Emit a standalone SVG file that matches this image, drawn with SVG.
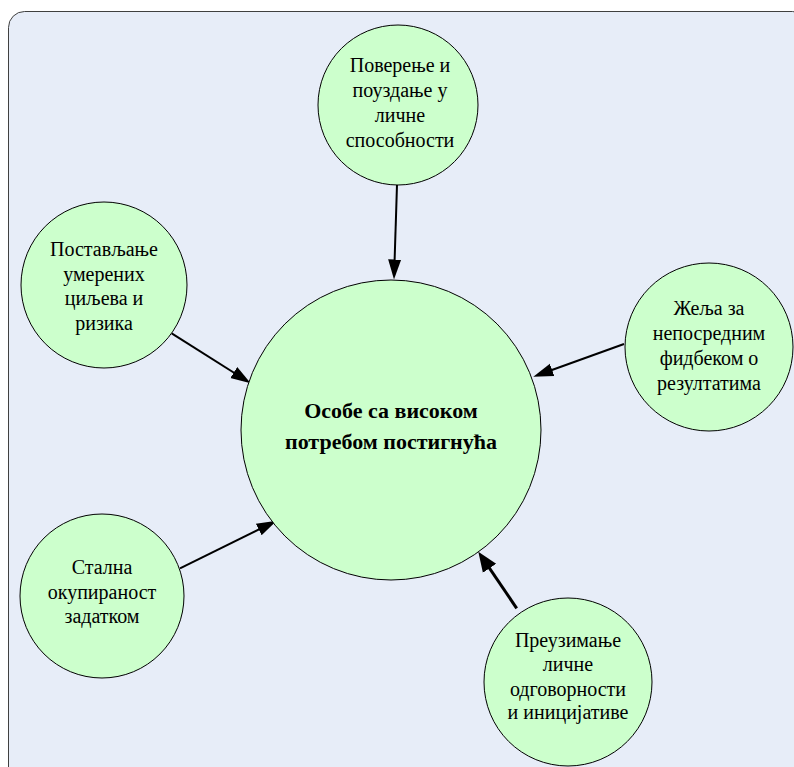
<svg xmlns="http://www.w3.org/2000/svg" width="794" height="767" viewBox="0 0 794 767" font-family="'Liberation Serif', 'DejaVu Serif', 'Noto Serif', serif">
  <style>
    .bubble { fill: #CCFFCC; stroke: #000; stroke-width: 1; }
    text { font-family: "Liberation Serif", "DejaVu Serif", "Noto Serif", "Times New Roman", serif; }
    .label { font-size: 20px; fill: #000; text-anchor: middle; }
    .hub { font-weight: bold; font-size: 22px; }
    .link { stroke: #000; stroke-width: 2; fill: none; marker-end: url(#head); }
    .link.bold { stroke-width: 3; marker-end: url(#headBold); }
  </style>
  <defs>
    <marker id="head" markerUnits="userSpaceOnUse" markerWidth="22" markerHeight="16" refX="12" refY="8" orient="auto">
      <path d="M0,1.5 L20,8 L0,14.5 Z" fill="#000"/>
    </marker>
    <marker id="headBold" markerUnits="userSpaceOnUse" markerWidth="22" markerHeight="18" refX="12" refY="9" orient="auto">
      <path d="M0,1 L20,9 L0,17 Z" fill="#000"/>
    </marker>
  </defs>

  <!-- page background -->
  <rect x="0" y="0" width="794" height="767" fill="#FFFFFF"/>
  <rect x="8.5" y="11.5" width="800" height="780" rx="16" ry="16" fill="#E7EDF8" stroke="#404040" stroke-width="1"/>

  <!-- connectors -->
  <g id="connectors">
    <line class="link" x1="397" y1="185" x2="394.25" y2="271.5"/>
    <line class="link" x1="171.7" y1="333.3" x2="243.9" y2="379"/>
    <line class="link" x1="180" y1="568.3" x2="269.5" y2="524.2"/>
    <line class="link" x1="624" y1="344" x2="540.8" y2="374"/>
    <line class="link bold" x1="516.7" y1="608.3" x2="482.8" y2="558.3"/>
  </g>

  <!-- central node -->
  <g id="hub">
    <circle class="bubble" cx="391" cy="430" r="150"/>
    <text class="label hub" x="391" y="418">Особе са високом</text>
    <text class="label hub" x="391" y="449">потребом постигнућа</text>
  </g>

  <g id="trust">
    <circle class="bubble" cx="398" cy="105" r="80"/>
    <text class="label" x="400" y="72">Поверење и</text>
    <text class="label" x="400" y="97">поуздање у</text>
    <text class="label" x="400" y="122">личне</text>
    <text class="label" x="400" y="147">способности</text>
  </g>

  <g id="goals">
    <circle class="bubble" cx="104" cy="285" r="83"/>
    <text class="label" x="104" y="256">Постављање</text>
    <text class="label" x="104" y="280.5">умерених</text>
    <text class="label" x="104" y="305">циљева и</text>
    <text class="label" x="104" y="329.5">ризика</text>
  </g>

  <g id="feedback">
    <circle class="bubble" cx="709" cy="347" r="84"/>
    <text class="label" x="709" y="315">Жеља за</text>
    <text class="label" x="709" y="340">непосредним</text>
    <text class="label" x="709" y="365">фидбеком о</text>
    <text class="label" x="709" y="389.5">резултатима</text>
  </g>

  <g id="task">
    <circle class="bubble" cx="102" cy="596" r="82"/>
    <text class="label" x="102" y="574">Стална</text>
    <text class="label" x="102" y="598.5">окупираност</text>
    <text class="label" x="102" y="623">задатком</text>
  </g>

  <g id="responsibility">
    <circle class="bubble" cx="568" cy="682" r="84"/>
    <text class="label" x="568" y="647">Преузимање</text>
    <text class="label" x="568" y="671">личне</text>
    <text class="label" x="568" y="695.5">одговорности</text>
    <text class="label" x="568" y="719">и иницијативе</text>
  </g>
</svg>
